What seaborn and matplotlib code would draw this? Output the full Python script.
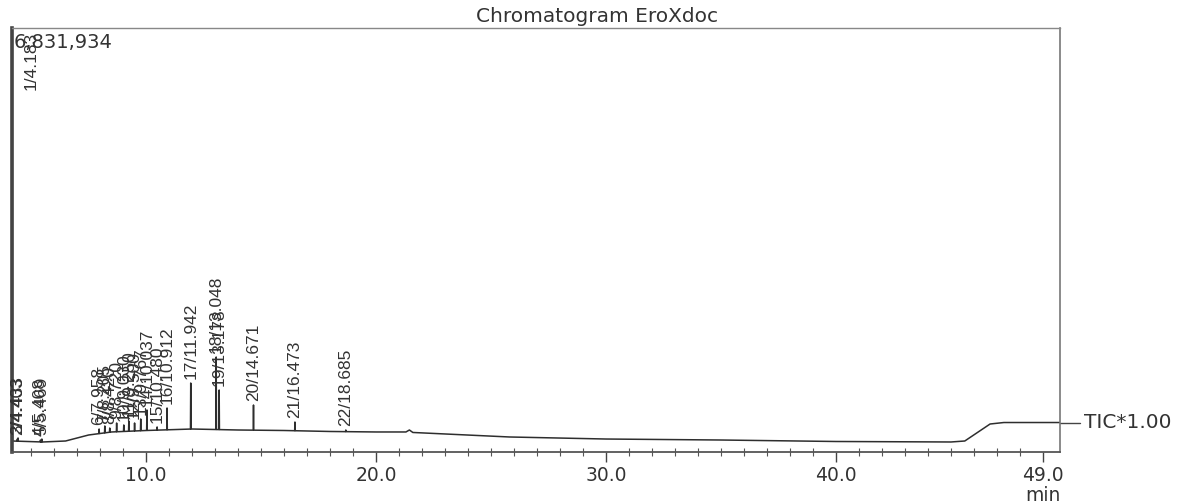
import numpy as np
import pandas as pd
import matplotlib
matplotlib.use("Agg")
import matplotlib.pyplot as plt
from matplotlib.ticker import MultipleLocator
import seaborn as sns

# ---------------- data ----------------
title = "Chromatogram EroXdoc"
max_intensity_label = "6,831,934"
trace_name = "TIC*1.00"

# baseline of the TIC trace: retention time (min) and intensity (counts)
base_t = [4.17, 5.5, 6.5, 7.5, 8.5, 10.0, 12.0, 14.0, 16.0, 18.0, 20.0, 21.3, 21.45,
          21.6, 25.8, 30.0, 35.0, 40.0, 45.0, 45.6, 46.7, 47.3, 49.74]
base_v = [178000, 162000, 178000, 275000, 324000, 348000, 372000, 356000, 348000,
          332000, 324000, 324000, 356000, 316000, 243000, 210000, 194000, 170000,
          162000, 178000, 453000, 477000, 477000]

# detected peaks: number, retention time (min), apex intensity (counts)
peak_no = list(range(1, 23))
peak_rt = [4.183, 4.403, 4.433, 5.408, 5.469, 7.958, 8.205, 8.420, 8.720, 9.030, 9.250,
           9.500, 9.767, 10.037, 10.480, 10.912, 11.942, 13.048, 13.178, 14.671, 16.473,
           18.685]
peak_top = [6831934, 210000, 227000, 194000, 210000, 372000, 421000, 388000, 469000,
            437000, 502000, 469000, 534000, 680000, 405000, 712000, 1116000, 1537000,
            1003000, 760000, 485000, 356000]

major_ticks = [10.0, 20.0, 30.0, 40.0, 49.0]
major_labels = ["10.0", "20.0", "30.0", "40.0", "49.0"]

# ---------------- build the trace ----------------
XMIN, XMAX = 4.17, 49.74
YMAX = 6860000
half_w = 0.012

pts_t = list(base_t)
pts_v = list(base_v)
for rt, top in zip(peak_rt, peak_top):
    for dt, val in ((-half_w, None), (0.0, top), (half_w, None)):
        tt = rt + dt
        pts_t.append(tt)
        pts_v.append(val if val is not None else float(np.interp(tt, base_t, base_v)))
order = np.argsort(pts_t, kind="stable")
df = pd.DataFrame({"t": np.array(pts_t)[order], "v": np.array(pts_v)[order]})

# ---------------- figure ----------------
sns.set_theme(style="white")
plt.rcParams["font.family"] = ["DejaVu Sans"]

fig = plt.figure(figsize=(11.95, 5.03), dpi=100)
ax = fig.add_axes([12 / 1195, 51 / 503, 1048 / 1195, 424 / 503])

sns.lineplot(data=df, x="t", y="v", ax=ax, color="#2e2e2e", linewidth=1.1,
             sort=False, estimator=None)

ax.set_xlim(XMIN, XMAX)
ax.set_ylim(0, YMAX)
ax.set_xlabel("")
ax.set_ylabel("")
ax.set_yticks([])
ax.set_xticks(major_ticks)
ax.set_xticklabels(major_labels)
ax.xaxis.set_minor_locator(MultipleLocator(1.0))
ax.tick_params(axis="x", which="both", bottom=True)
ax.tick_params(axis="x", which="major", direction="out", length=7, width=1.0,
               colors="#444444", labelsize=13.5, pad=3, labelcolor="#333333")
ax.tick_params(axis="x", which="minor", direction="inout", length=6, width=0.8,
               colors="#555555")

for side, lw, col in (("left", 2.6, "#444444"), ("bottom", 1.3, "#555555"),
                      ("top", 1.0, "#888888"), ("right", 1.2, "#777777")):
    ax.spines[side].set_visible(True)
    ax.spines[side].set_linewidth(lw)
    ax.spines[side].set_color(col)

# peak labels
px = YMAX / 424.0
for n, rt, top in zip(peak_no, peak_rt, peak_top):
    lab = f"{n}/{rt:.3f}"
    if top >= YMAX * 0.95:
        ax.text(rt + 0.8, YMAX - 62 * px, lab, rotation=90, ha="center",
                va="bottom", fontsize=12.5, family="Liberation Sans", color="#333333",
                clip_on=True)
    else:
        ax.text(rt, top + 4 * px, lab, rotation=90, ha="center", va="bottom",
                fontsize=12.5, family="Liberation Sans", color="#333333")

# max intensity in the top-left corner
ax.text(0.002, 0.988, max_intensity_label, transform=ax.transAxes, ha="left", va="top",
        fontsize=14, color="#333333")

# title
fig.text(0.5, 1 - 17 / 503, title, ha="center", va="center", fontsize=14.5,
         color="#333333")

# unit under the last tick
ax.text(49.0, -0.102, "min", transform=ax.get_xaxis_transform(), ha="center",
        va="center", fontsize=13.5, color="#333333")

# trace name at the right end
last_v = base_v[-1]
ax.plot([XMAX, XMAX + 0.85], [last_v, last_v], color="#444444", lw=1.0, clip_on=False)
ax.text(XMAX + 1.05, last_v, trace_name, ha="left", va="center", fontsize=14.5,
        color="#333333", clip_on=False)

fig.savefig("out.png", dpi=100, facecolor="white")
